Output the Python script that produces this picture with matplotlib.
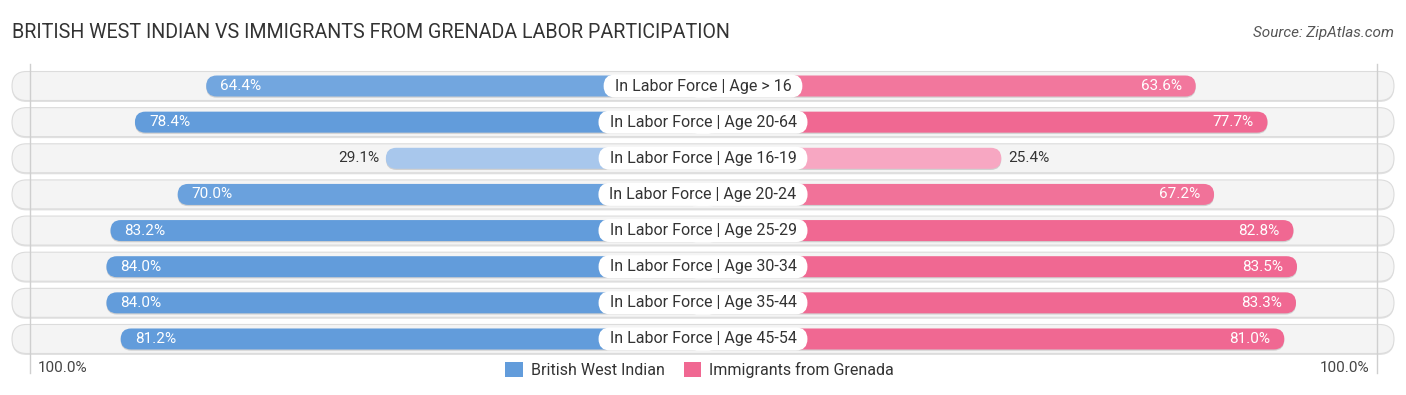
import numpy as np
import matplotlib.pyplot as plt
from matplotlib.patches import FancyBboxPatch, Patch
from matplotlib.colors import to_rgb

plt.rcParams['font.family'] = ['Roboto', 'DejaVu Sans']

categories = ["In Labor Force | Age > 16", "In Labor Force | Age 20-64",
              "In Labor Force | Age 16-19", "In Labor Force | Age 20-24",
              "In Labor Force | Age 25-29", "In Labor Force | Age 30-34",
              "In Labor Force | Age 35-44", "In Labor Force | Age 45-54"]
british_west_indian = [64.4, 78.4, 29.1, 70.0, 83.2, 84.0, 84.0, 81.2]
grenada = [63.6, 77.7, 25.4, 67.2, 82.8, 83.5, 83.3, 81.0]
series_names = ["British West Indian", "Immigrants from Grenada"]

W, H = 1406, 395
PX = 5.09            # pixels per percent point
ROW = 36.14          # pixels per row
GAP = 169 / PX       # half width of the centre label zone
asp = PX / ROW

fig = plt.figure(figsize=(W / 100, H / 100), dpi=100)
ax = fig.add_axes([0, 0, 1, 1])
ax.set_xlim(-W / 2 / PX, W / 2 / PX)
ax.set_ylim((H - 86) / ROW, -86 / ROW)
ax.axis('off')


def capsule(x0, x1, yc, h, **kw):
    r = h / 2 / asp
    p = FancyBboxPatch((x0, yc - h / 2), x1 - x0, h,
                       boxstyle=f"round,pad=0,rounding_size={r}",
                       mutation_aspect=asp, **kw)
    ax.add_patch(p)
    return p


def mix(light, full, t):
    a, b = np.array(to_rgb(light)), np.array(to_rgb(full))
    return tuple(a + (b - a) * t)


blue_full, blue_light = '#629cdb', '#aecbee'
pink_full, pink_light = '#f06892', '#f7a8c2'

track_half = 691 / PX
for i in range(len(categories)):
    # track with a soft shadow
    capsule(-track_half, track_half, i + 1.5 / ROW, 29 / ROW, fc='#e2e2e2', ec='none', zorder=1)
    capsule(-track_half, track_half, i, 29 / ROW, fc='#f4f4f4', ec='#dcdcdc', lw=0.8, zorder=1.2)

# 100% guide lines
for gx in (-132.2, 132.4):
    ax.plot([gx, gx], [-0.6, 7.95], color='#cfcfcf', lw=1, zorder=1.5)

bh = 21 / ROW
for i, (b, g) in enumerate(zip(british_west_indian, grenada)):
    tb = np.clip((b - 25) / 50, 0, 1)
    tg = np.clip((g - 25) / 50, 0, 1)
    capsule(-(GAP + b), 0, i + 1.2 / ROW, bh, fc='#d0d0d0', ec='none', zorder=2)
    capsule(-(GAP + b), 0, i, bh, fc=mix(blue_light, blue_full, tb), ec='none', zorder=2.2)
    capsule(0, GAP + g, i + 1.2 / ROW, bh, fc='#d0d0d0', ec='none', zorder=2)
    capsule(0, GAP + g, i, bh, fc=mix(pink_light, pink_full, tg), ec='none', zorder=2.2)

    if b >= 35:
        ax.text(-(GAP + b) + 14 / PX, i, f"{b:.1f}%", ha='left', va='center',
                fontsize=11, color='white', zorder=4)
    else:
        ax.text(-(GAP + b) - 7 / PX, i, f"{b:.1f}%", ha='right', va='center',
                fontsize=11, color='#333333', zorder=4)
    if g >= 35:
        ax.text(GAP + g - 14 / PX, i, f"{g:.1f}%", ha='right', va='center',
                fontsize=11, color='white', zorder=4)
    else:
        ax.text(GAP + g + 7 / PX, i, f"{g:.1f}%", ha='left', va='center',
                fontsize=11, color='#333333', zorder=4)

labels = [ax.text(0, i, c, ha='center', va='center', fontsize=11.5,
                  color='#333333', zorder=6) for i, c in enumerate(categories)]

fig.canvas.draw()
for i, t in enumerate(labels):
    w = t.get_window_extent().width / PX + 22 / PX
    capsule(-w / 2, w / 2, i, 23 / ROW, fc='white', ec='none', zorder=5)

ax.text(38 / PX - W / 2 / PX, 7.8, "100.0%", ha='left', va='center',
        fontsize=11, color='#444444')
ax.text(1369 / PX - W / 2 / PX, 7.8, "100.0%", ha='right', va='center',
        fontsize=11, color='#444444')

handles = [Patch(fc=blue_full, ec='none'), Patch(fc=pink_full, ec='none')]
fig.legend(handles, series_names, loc='center', bbox_to_anchor=(699.5 / W, 1 - 370 / H),
           ncol=2, frameon=False, fontsize=11.5, handlelength=1.1, handleheight=1.1,
           handletextpad=0.5, columnspacing=1.2, labelcolor='#333333')

fig.text(12 / W, 1 - 33 / H, "BRITISH WEST INDIAN VS IMMIGRANTS FROM GRENADA LABOR PARTICIPATION",
         ha='left', va='center', fontsize=14.1, color='#333333')
fig.text(1394 / W, 1 - 33 / H, "Source: ZipAtlas.com", ha='right', va='center',
         fontsize=11, color='#555555', style='italic')

fig.savefig('out.png', dpi=100)
